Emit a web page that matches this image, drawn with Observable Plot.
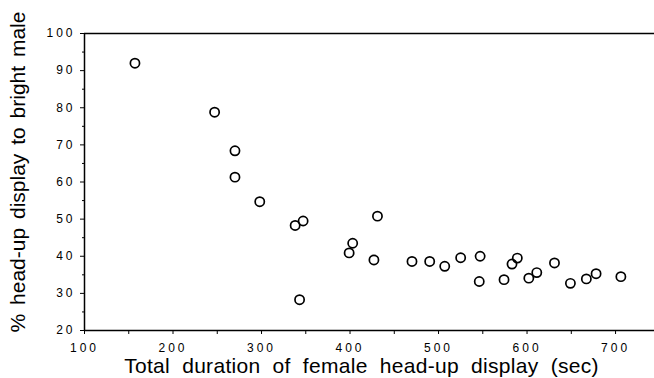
<!DOCTYPE html>
<html>
<head>
<meta charset="utf-8">
<script src="https://cdn.jsdelivr.net/npm/d3@7"></script>
<script src="https://cdn.jsdelivr.net/npm/@observablehq/plot@0.6"></script>
<style>
  html, body { margin: 0; padding: 0; background: #fff; }
  svg { display: block; }
</style>
</head>
<body>
<div id="chart"></div>
<script>
// Total duration of female head-up display (sec)
const duration = [157, 247, 270, 270, 298, 338, 347, 343, 399, 403, 427, 431,
  470, 490, 507, 525, 547, 546, 574, 583, 589, 602, 611, 631, 649, 667, 678, 706];
// % head-up display to bright male
const percent = [92.0, 78.8, 68.4, 61.3, 54.7, 48.3, 49.5, 28.3, 40.9, 43.5, 39.0, 50.8,
  38.6, 38.6, 37.3, 39.6, 40.0, 33.2, 33.7, 37.9, 39.5, 34.1, 35.6, 38.2, 32.7, 33.9, 35.3, 34.5];

const xMajorTicks = [100, 200, 300, 400, 500, 600, 700];
const xMinorTicks = [150, 250, 350, 450, 550, 650];
const yMajorTicks = [20, 30, 40, 50, 60, 70, 80, 90, 100];
const yMinorTicks = [25, 35, 45, 55, 65, 75, 85, 95];

const xLabel = "Total duration of female head-up display (sec)";
const yLabel = "% head-up display to bright male";

const data = duration.map((d, i) => ({x: d, y: percent[i]}));

const chart = Plot.plot({
  width: 654,
  height: 378,
  marginLeft: 84,
  marginRight: 0,
  marginTop: 33,
  marginBottom: 48,
  style: {fontFamily: "Liberation Sans, Arial, sans-serif", color: "#000", background: "#fff"},
  x: {domain: [100, 744]},
  y: {domain: [20, 100]},
  marks: [
    Plot.ruleX([100], {stroke: "#000", strokeWidth: 1.5}),
    Plot.ruleY([20], {stroke: "#000", strokeWidth: 1.5}),
    Plot.ruleY([100], {stroke: "#000", strokeWidth: 1.5}),
    Plot.axisX({ticks: xMajorTicks, tickSize: 4, tickPadding: 9, fontSize: 12, label: null, tickFormat: d => d}),
    Plot.axisX({ticks: xMinorTicks, tickSize: 4, tickFormat: () => "", label: null}),
    Plot.axisY({ticks: yMajorTicks, tickSize: 4, tickPadding: 5, fontSize: 12, label: null}),
    Plot.axisY({ticks: yMinorTicks, tickSize: 2, tickFormat: () => "", label: null}),
    Plot.dot(data, {x: "x", y: "y", r: 4.6, stroke: "#000", strokeWidth: 1.7, fill: "none"}),
    Plot.text([xLabel], {frameAnchor: "bottom", textAnchor: "middle", dx: -8, dy: 36, lineAnchor: "middle",
      fontSize: 21, fill: "#000", className: "xlab"}),
    Plot.text([yLabel], {frameAnchor: "left", textAnchor: "middle", rotate: -90, dx: -66, dy: -10, lineAnchor: "middle",
      fontSize: 21, fill: "#000", className: "ylab"})
  ]
});
d3.select(chart).selectAll("[aria-label='x-axis tick label'] text, [aria-label='y-axis tick label'] text")
  .style("letter-spacing", "3px");
d3.select(chart).selectAll(".xlab text").style("letter-spacing", "0.3px").style("word-spacing", "6px");
d3.select(chart).selectAll(".ylab text").style("word-spacing", "3px");
document.getElementById("chart").appendChild(chart);
</script>
</body>
</html>
